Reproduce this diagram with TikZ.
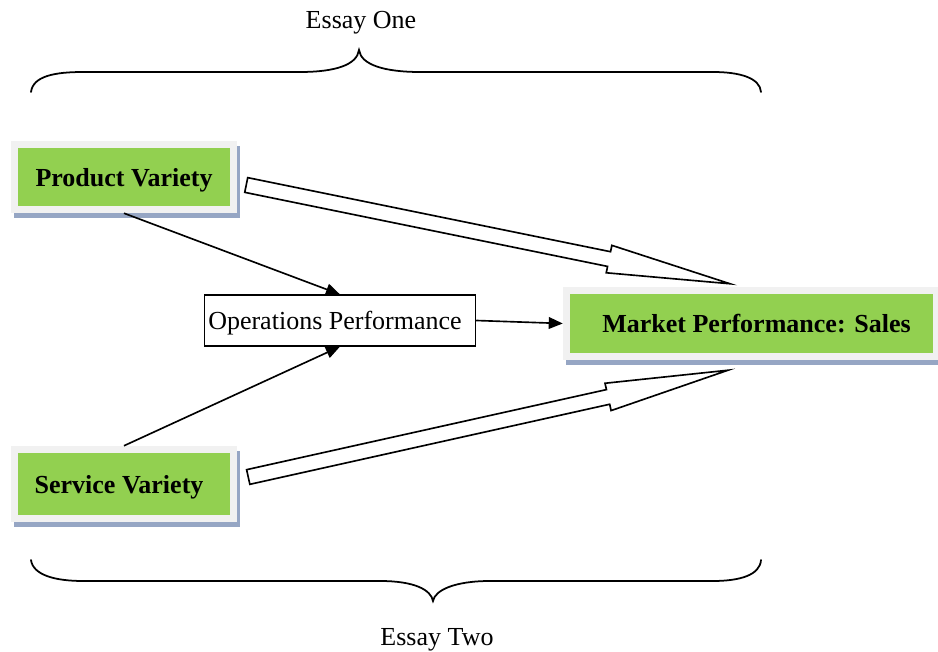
\documentclass[tikz,border=0pt]{standalone}
\usepackage{fontspec}
\setmainfont{Liberation Serif}
\usetikzlibrary{calc,shadows,arrows.meta}
\definecolor{boxgreen}{RGB}{146,208,80}
\definecolor{boxgray}{RGB}{241,241,241}
\definecolor{shadowblue}{RGB}{150,166,196}

\newcommand{\fatarrow}[2]{%
  \coordinate (#1-neck) at ($(#1)!0.75!(#2)$);
  \draw[fatline] ($(#1)!0.225cm!90:(#2)$) -- ($(#1-neck)!0.225cm!90:(#2)$)
    -- ($(#1-neck)!0.42cm!90:(#2)$) -- (#2) -- ($(#1-neck)!0.42cm!-90:(#2)$)
    -- ($(#1-neck)!0.225cm!-90:(#2)$) -- ($(#1)!0.225cm!-90:(#2)$) -- cycle;}

\begin{document}
\begin{tikzpicture}[x=0.03cm,y=-0.03cm,
    every node/.style={font=\fontsize{22.2}{26}\selectfont,text depth=0pt},
    varbox/.style={fill=boxgray,font=\fontsize{22.2}{26}\selectfont\bfseries,
      drop shadow={shadow xshift=0.09cm,shadow yshift=-0.15cm,fill=shadowblue,opacity=1},
      path picture={\fill[boxgreen]
        ($(path picture bounding box.south west)+(0.21cm,0.21cm)$) rectangle
        ($(path picture bounding box.north east)-(0.21cm,0.21cm)$);}},
    opbox/.style={draw,fill=white,line width=1pt,minimum width=8.1cm,minimum height=1.53cm},
    thin arrow/.style={line width=1.4pt,-{Triangle[length=12pt,width=10pt]}},
    fatline/.style={draw,fill=white,line width=1.4pt,line join=miter},
    brace/.style={line width=1.5pt,line cap=round}]
  \useasboundingbox (0,0) rectangle (938,652);

  \node[varbox,minimum width=6.78cm,minimum height=2.16cm] (pv) at (124,177) {Product Variety};
  \node[varbox,minimum width=6.78cm,minimum height=2.28cm] (sv) at (124,484) {Service Variety\hspace*{0.3cm}};
  \node[varbox,minimum width=11.31cm,minimum height=2.19cm] (mp) at (751.5,323.5) {\hspace*{0.3cm}Market Performance: Sales};
  \node[opbox] (op) at (340,320.5) {Operations Performance\hspace*{0.3cm}};

  \draw[thin arrow] (pv.south) -- (op.north);
  \draw[thin arrow] (sv.north) -- (op.south);
  \draw[thin arrow] (op.east) -- (mp.west);

  \coordinate (pvout) at ($(pv.east)+(9,8)$);
  \coordinate (svout) at ($(sv.east)+(11,-7)$);
  \coordinate (mptop) at ($(mp.north)+(-21.5,-3)$);
  \coordinate (mpbot) at ($(mp.south)+(-23.5,10)$);
  \fatarrow{pvout}{mptop}
  \fatarrow{svout}{mpbot}

  \draw[brace] (31,92) .. controls (33,76) and (55,72) .. (83,72) -- (300,72)
    .. controls (335,72) and (357,65) .. (359,50)
    .. controls (361,65) and (385,72) .. (420,72) -- (713,72)
    .. controls (740,72) and (760,78) .. (761,92);
  \draw[brace] (31,560) .. controls (33,575) and (55,581) .. (83,581) -- (380,581)
    .. controls (415,581) and (431,590) .. (433,601)
    .. controls (435,590) and (455,581) .. (490,581) -- (713,581)
    .. controls (740,581) and (760,575) .. (761,560);
  \node (essay1) at (361,20) {Essay One};
  \node (essay2) at (437,637) {Essay Two};
\end{tikzpicture}
\end{document}
